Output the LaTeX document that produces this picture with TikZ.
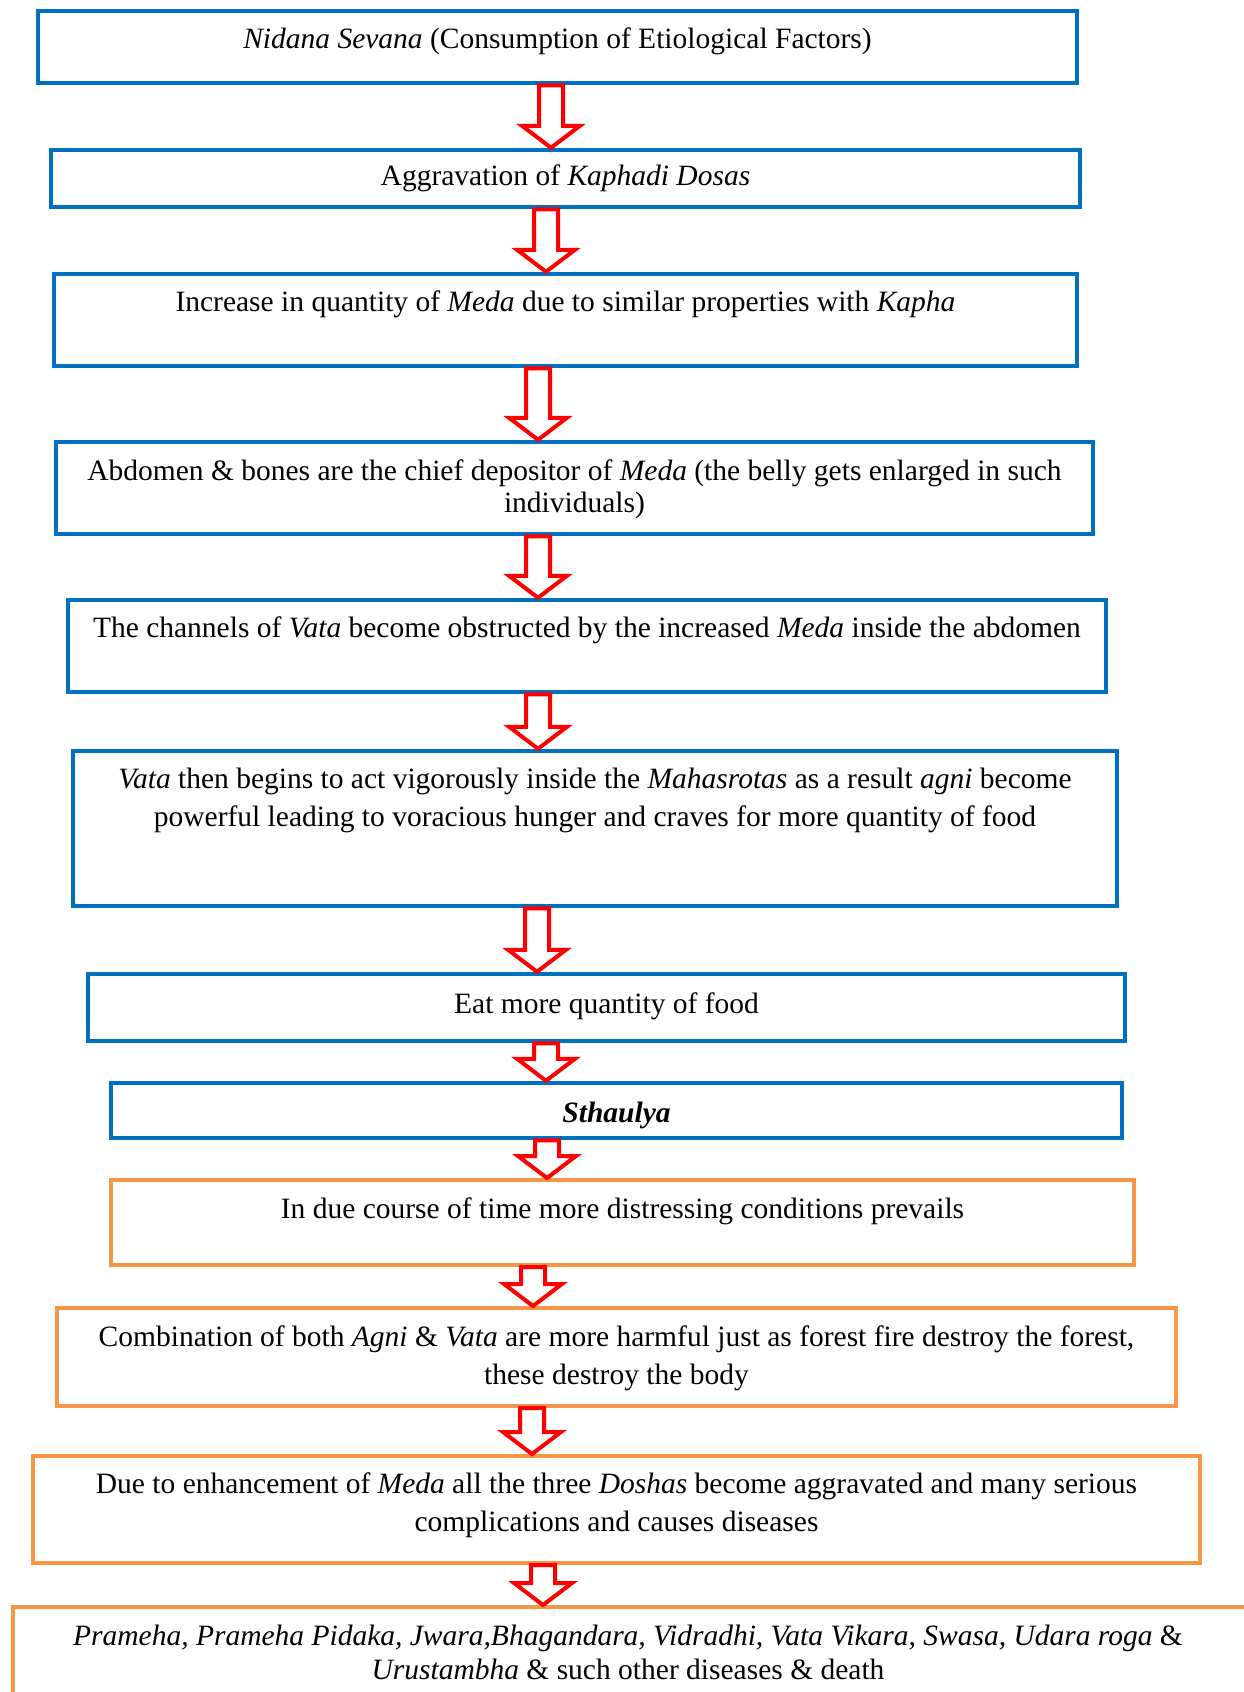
\documentclass[tikz,border=0pt]{standalone}
\usepackage{fontspec}
\setmainfont{Liberation Serif}
\usetikzlibrary{calc}
\definecolor{boxblue}{RGB}{0,112,192}
\definecolor{boxorange}{RGB}{247,150,70}
\definecolor{arrowred}{RGB}{255,0,0}

% hollow block arrow: x position, upper box, lower box
\newcommand{\hollowarrow}[3]{%
  \draw[flowarrow] let \p1=(#2.south), \p2=(#3.north), \p3=(#1,0) in
    ({\x3-12pt},\y1) -- ({\x3+12pt},\y1) -- ({\x3+12pt},{\y2+22pt})
    -- ({\x3+29pt},{\y2+22pt}) -- (\x3,\y2) -- ({\x3-29pt},{\y2+22pt})
    -- ({\x3-12pt},{\y2+22pt}) -- cycle;
}

\begin{document}
\begin{tikzpicture}[
    x=1pt, y=-1pt,
    box/.style={rectangle, line width=4.5pt, inner sep=0pt},
    bluebox/.style={box, draw=boxblue},
    orangebox/.style={box, draw=boxorange, line width=4pt},
    boxtext/.style={align=center, inner sep=0pt,
        font=\fontsize{29.5}{38}\selectfont},
    flowarrow/.style={draw=arrowred, fill=white, line width=4pt, line join=miter}
]
\useasboundingbox (0,0) rectangle (1244,1692);

% boxes
\node[bluebox, minimum width=1039, minimum height=72] (b1) at (557.5,47) {};
\node[bluebox, minimum width=1029, minimum height=57] (b2) at (565.5,178.5) {};
\node[bluebox, minimum width=1023, minimum height=92] (b3) at (565.5,320) {};
\node[bluebox, minimum width=1037, minimum height=92] (b4) at (574.5,488) {};
\node[bluebox, minimum width=1038, minimum height=92] (b5) at (587,646) {};
\node[bluebox, minimum width=1044, minimum height=155] (b6) at (595,828.5) {};
\node[bluebox, minimum width=1037, minimum height=67] (b7) at (606.5,1007.5) {};
\node[bluebox, minimum width=1011, minimum height=55] (b8) at (616.5,1110.5) {};
\node[orangebox, minimum width=1023, minimum height=85] (b9) at (622.5,1222.5) {};
\node[orangebox, minimum width=1119, minimum height=98] (b10) at (616.5,1357) {};
\node[orangebox, minimum width=1167, minimum height=107] (b11) at (616.5,1509.5) {};
\node[orangebox, minimum width=1250, minimum height=130, anchor=north west] (b12) at (11,1605) {};

% arrows
\foreach \ax/\from/\to in {551/b1/b2, 546/b2/b3, 538/b3/b4, 538/b4/b5, 538/b5/b6,
    537/b6/b7, 546/b7/b8, 547/b8/b9, 533/b9/b10, 532/b10/b11, 543/b11/b12}
  {\hollowarrow{\ax}{\from}{\to}}

% texts
\node[boxtext] (t1) at (557.5,41) {\textit{Nidana Sevana} (Consumption of Etiological Factors)};
\node[boxtext] (t2) at (565.5,178) {Aggravation of \textit{Kaphadi Dosas}};
\node[boxtext] (t3) at (565.5,304) {Increase in quantity of \textit{Meda} due to similar properties with \textit{Kapha}};
\node[boxtext, font=\fontsize{29.5}{32}\selectfont] (t4) at (574.5,489) {Abdomen \& bones are the chief depositor of \textit{Meda} (the belly gets enlarged in such\\individuals)};
\node[boxtext] (t5) at (587,630) {The channels of \textit{Vata} become obstructed by the increased \textit{Meda} inside the abdomen};
\node[boxtext] (t6) at (595,800) {\textit{Vata} then begins to act vigorously inside the \textit{Mahasrotas} as a result \textit{agni} become\\powerful leading to voracious hunger and craves for more quantity of food};
\node[boxtext] (t7) at (606.5,1006) {Eat more quantity of food};
\node[boxtext] (t8) at (616.5,1115) {\textbf{\textit{Sthaulya}}};
\node[boxtext] (t9) at (622.5,1211) {In due course of time more distressing conditions prevails};
\node[boxtext] (t10) at (616.5,1358) {Combination of both \textit{Agni} \& \textit{Vata} are more harmful just as forest fire destroy the forest,\\these destroy the body};
\node[boxtext] (t11) at (616.5,1505) {Due to enhancement of \textit{Meda} all the three \textit{Doshas} become aggravated and many serious\\complications and causes diseases};
\node[boxtext, font=\fontsize{29.5}{34}\selectfont] (t12) at (628,1652) {\textit{Prameha, Prameha Pidaka, Jwara,Bhagandara, Vidradhi, Vata Vikara, Swasa, Udara roga} \&\\\textit{Urustambha} \& such other diseases \& death};

\end{tikzpicture}
\end{document}
